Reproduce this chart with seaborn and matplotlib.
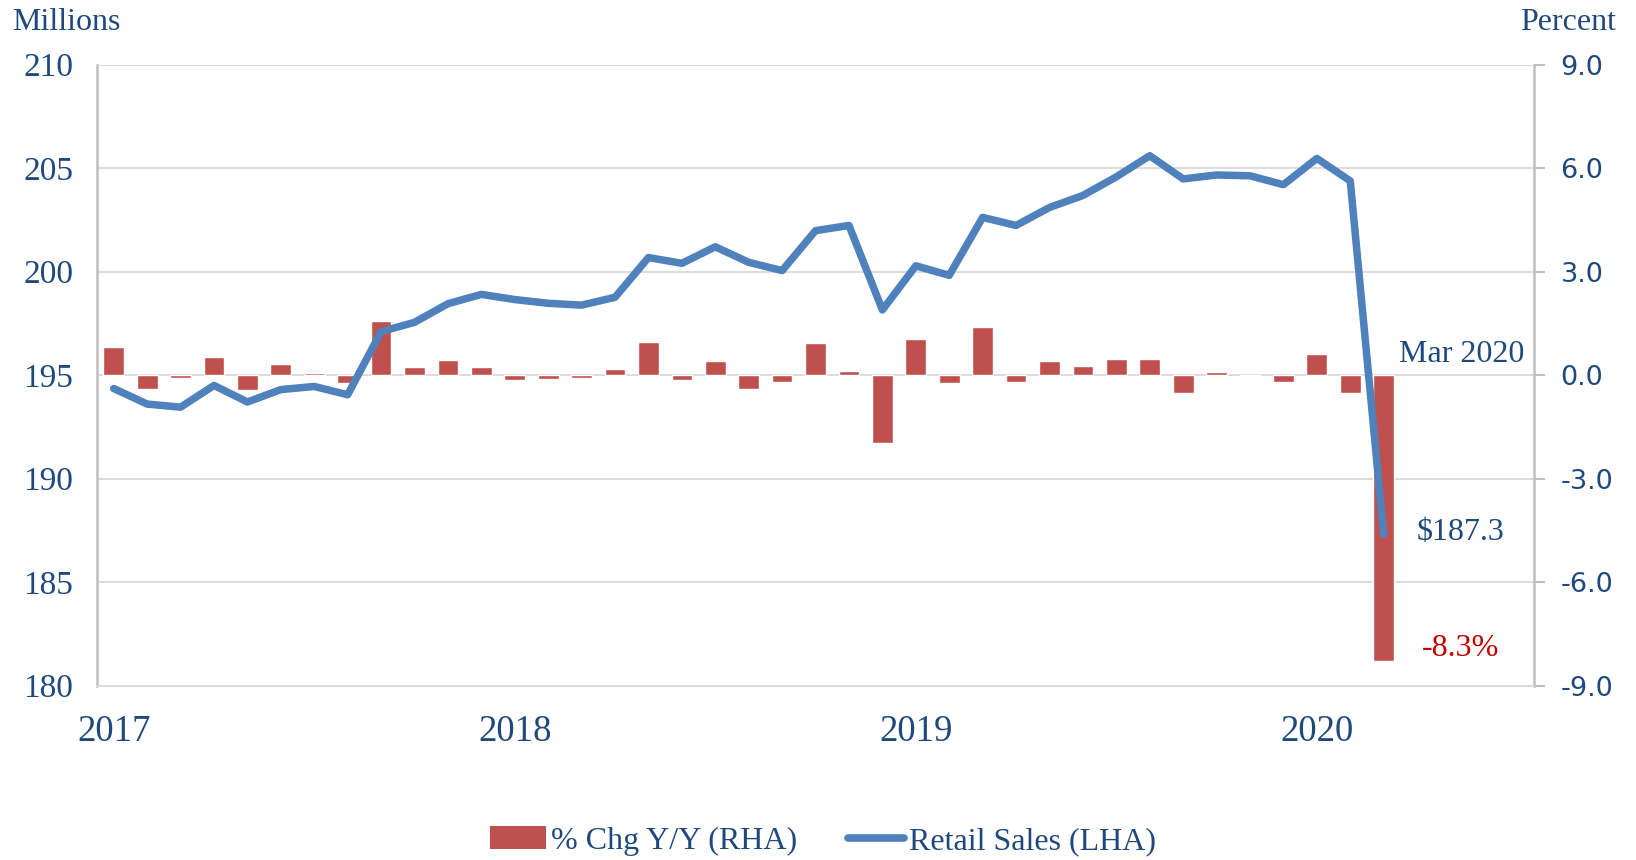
import numpy as np
import pandas as pd
import matplotlib
matplotlib.use("Agg")
import matplotlib.pyplot as plt
from matplotlib.patches import Patch
from matplotlib.lines import Line2D
import seaborn as sns

# monthly data, Jan 2017 - Mar 2020
months = pd.date_range("2017-01-01", periods=39, freq="MS")
retail_sales = [194.35, 193.6, 193.45, 194.5, 193.7, 194.3, 194.45, 194.05,
                197.1, 197.55, 198.45, 198.9, 198.65, 198.47, 198.38, 198.76,
                200.68, 200.4, 201.2, 200.45, 200.05, 201.98, 202.23, 198.15,
                200.28, 199.82, 202.62, 202.23, 203.1, 203.68, 204.58, 205.6,
                204.48, 204.67, 204.63, 204.2, 205.47, 204.38, 187.3]
pct_chg = [0.82, -0.39, -0.09, 0.52, -0.42, 0.31, 0.07, -0.22,
           1.57, 0.23, 0.44, 0.23, -0.15, -0.11, -0.07, 0.18,
           0.97, -0.15, 0.42, -0.41, -0.21, 0.93, 0.13, -1.98,
           1.05, -0.24, 1.39, -0.19, 0.41, 0.27, 0.46, 0.47,
           -0.53, 0.08, -0.02, -0.21, 0.61, -0.53, -8.3]
year_labels = ["2017", "2018", "2019", "2020"]
left_ticks = [180, 185, 190, 195, 200, 205, 210]
right_ticks = [-9.0, -6.0, -3.0, 0.0, 3.0, 6.0, 9.0]

df = pd.DataFrame({"pos": np.arange(len(months)), "month": months,
                   "sales": retail_sales, "pct": pct_chg})

navy = "#1F497D"
red = "#C0504D"
blue = "#4F81BD"
grid_c = "#D9D9D9"
spine_c = "#BFBFBF"
serif = ["Liberation Serif", "DejaVu Serif"]

sns.set_theme(style="white")
plt.rcParams["font.family"] = serif

fig, ax = plt.subplots(figsize=(16.36, 8.6), dpi=100)
fig.subplots_adjust(left=0.0593, right=0.9377, top=0.9248, bottom=0.2029)
ax2 = ax.twinx()
ax.set_zorder(ax2.get_zorder() + 1)
ax.patch.set_visible(False)

# bars on the right-hand axis
sns.barplot(data=df, x="pos", y="pct", color=red, saturation=1, width=0.62,
            ax=ax2, zorder=2)
ax2.set_ylim(-9, 9)
ax2.set_yticks(right_ticks)
ax2.set_yticklabels([f"{t:.1f}" for t in right_ticks],
                    family="DejaVu Sans", fontsize=19.5, color=navy)
ax2.tick_params(axis="y", length=8, width=1.5, color=spine_c, pad=11)
ax2.grid(axis="y", color=grid_c, linewidth=1.3)
ax2.set_axisbelow(True)
ax2.set_ylabel("")

# retail sales line on the left-hand axis
sns.lineplot(data=df, x="pos", y="sales", color=blue, linewidth=5.4, ax=ax,
             solid_joinstyle="round", solid_capstyle="round")
ax.set_ylim(180, 210)
ax.set_yticks(left_ticks)
ax.set_yticklabels([str(t) for t in left_ticks], fontsize=24, color=navy)
ax.tick_params(axis="y", length=0, pad=17)
ax.grid(False)
ax.set_ylabel("")
ax.set_xlabel("")
ax2.set_xlabel("")

ax.set_xlim(-0.5, 42.5)
ax2.set_xlim(-0.5, 42.5)
ax.set_xticks([0, 12, 24, 36])
ax.set_xticklabels(year_labels, fontsize=26.5, color=navy)
ax.tick_params(axis="x", length=0, pad=21)
ax2.tick_params(axis="x", length=0, labelbottom=False)

for a in (ax, ax2):
    a.spines["top"].set_visible(False)
ax.spines["right"].set_visible(False)
ax2.spines["left"].set_visible(False)
ax.spines["left"].set_color(spine_c)
ax.spines["left"].set_linewidth(1.8)
ax2.spines["right"].set_color(spine_c)
ax2.spines["right"].set_linewidth(1.8)
ax.spines["bottom"].set_color(grid_c)
ax.spines["bottom"].set_linewidth(1.3)
ax2.spines["bottom"].set_visible(False)

# annotations
ax.text(38.45, 196.0, "Mar 2020", fontsize=23, color=navy, va="center", ha="left")
ax.text(39.0, 187.4, "$187.3", fontsize=23, color=navy, va="center", ha="left")
ax.text(39.15, 181.8, "-8.3%", fontsize=23, color="#C00000", va="center", ha="left")

fig.text(0.0077, 0.974, "Millions", fontsize=23, color=navy, ha="left", va="center")
fig.text(0.988, 0.974, "Percent", fontsize=23, color=navy, ha="right", va="center")

handles = [Patch(facecolor=red, edgecolor="none"),
           Line2D([0], [0], color=blue, linewidth=5.5, solid_capstyle="round")]
fig.legend(handles, ["% Chg Y/Y (RHA)", "Retail Sales (LHA)"],
           loc="center", bbox_to_anchor=(0.503, 0.022), ncol=2, frameon=False,
           fontsize=23, labelcolor=navy, handlelength=1.75, handleheight=0.7,
           handletextpad=0.15, columnspacing=1.6)

fig.savefig("out.png", dpi=100)
